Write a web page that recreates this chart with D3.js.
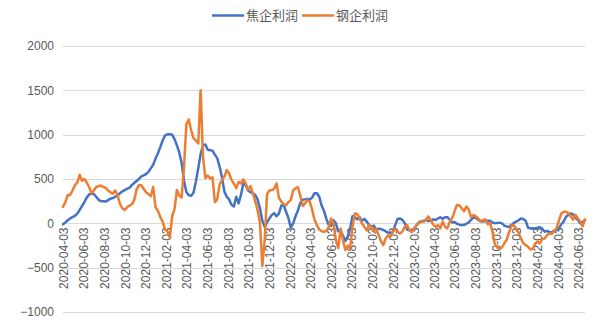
<!DOCTYPE html>
<html>
<head>
<meta charset="utf-8">
<script src="https://cdn.jsdelivr.net/npm/d3@7/dist/d3.min.js"></script>
<style>
  html, body { margin: 0; padding: 0; background: #fff; }
  svg { display: block; }
  text { font-family: "Liberation Sans", Arial, "Noto Sans CJK SC", sans-serif; fill: #595959; }
</style>
</head>
<body>
<svg id="chart" width="609" height="330"></svg>
<script>
// Weekly series, first observation on 2020-04-03, one value per week (元/吨)
const startDate = "2020-04-03";
const seriesNames = ["焦企利润", "钢企利润"];
const seriesColors = ["#4472C4", "#ED7D31"];

const cokeProfit = [
  -10, 10, 35, 55, 70, 85, 110, 150, 195, 240,
  290, 325, 336, 330, 300, 265, 250, 248, 245, 262,
  278, 285, 300, 312, 340, 360, 375, 390, 400, 430,
  455, 478, 500, 530, 540, 555, 580, 620, 660, 730,
  790, 860, 935, 990, 1005, 1005, 1000, 950, 880, 800,
  680, 480, 350, 318, 310, 345, 470, 620, 780, 880,
  890, 830, 825, 820, 775, 735, 640, 520, 360, 300,
  270, 210, 190, 300, 225, 320, 450, 430, 370, 350,
  340, 320, 270, 170, 30, -40, 10, 55, 95, 115,
  80, 110, 200, 210, 130, 60, -50, 0, 80, 145,
  230, 265, 270, 275, 268, 290, 340, 340, 300, 200,
  140, 50, -20, -30, 35, 0, -90, -80, -140, -200,
  -150, -60, 80, 70, 45, 70, 30, 50, 20, -20,
  -35, -25, -70, -60, -65, -75, -90, -105, -110, -100,
  -20, 50, 55, 40, 5, -70, -80, -80, -60, -20,
  10, 25, 30, 38, 25, 30, 45, 38, 55, 68,
  50, 68, 70, 40, 10, 15, -5, -15, -20, -18,
  -5, 10, 40, 68, 60, 40, 25, 20, 30, 28,
  30, 10, 2, 5, 8, 0, -25, -35, -38, -20,
  5, 20, 35, 55, 50, 30, -50, -57, -55, -57,
  -50, -45, -60, -95, -85, -100, -100, -85, -78, -60,
  -10, 20, 75, 95, 112, 100, 60, 40, 0, 15,
  35
];

const steelProfit = [
  186, 240, 320, 318, 370, 430, 460, 548, 480, 500,
  460, 410, 340, 370, 410, 420, 425, 410, 400, 370,
  350, 335, 370, 315, 220, 170, 150, 180, 200, 215,
  260, 380, 430, 430, 390, 350, 330, 305, 410, 180,
  140, 70, 20, -70, -90, -160, 80, 160, 375, 310,
  290, 640, 1120, 1170, 1050, 960, 935, 900, 1500, 750,
  510, 540, 505, 520, 240, 270, 440, 490, 525, 600,
  565, 490, 450, 395, 465, 450, 495, 450, 380, 420,
  340, 250, 150, 10, -480, -190, 330, 370, 375, 390,
  450, 290, 245, 215, 205, 240, 262, 370, 395, 410,
  310, 195, 225, 260, 245, 155, 40, -20, -70, -90,
  -95, -85, -40, 55, 0, -190, -280, -60, -190, -300,
  -250, -285, -40, 110, 105, 55, 0, -40, -80, -20,
  -40, -95, -60, -130, -200, -245, -170, -135, -150, -95,
  -60, -95, -115, -95, -40, -20, -75, -95, -60, -20,
  0, 20, 18, 40, 78, 38, -15, -38, -20, -55,
  20, -38, -57, 19, 57, 133, 208, 205, 170, 135,
  190, 155, 70, 95, 78, 57, 20, 38, 45, -10,
  5, -95, -230, -275, -285, -270, -225, -185, -100, -30,
  -20, -60, -105, -170, -225, -245, -265, -295, -285, -230,
  -205, -225, -175, -170, -135, -115, -120, -80, -60, 30,
  110, 130, 130, 115, 80, 40, 95, 55, 20, -35,
  45
];

const yTicks = [-1000, -500, 0, 500, 1000, 1500, 2000];
const xTickLabels = [
  "2020-04-03", "2020-06-03", "2020-08-03", "2020-10-03", "2020-12-03",
  "2021-02-03", "2021-04-03", "2021-06-03", "2021-08-03", "2021-10-03",
  "2021-12-03", "2022-02-03", "2022-04-03", "2022-06-03", "2022-08-03",
  "2022-10-03", "2022-12-03", "2023-02-03", "2023-04-03", "2023-06-03",
  "2023-08-03", "2023-10-03", "2023-12-03", "2024-02-03", "2024-04-03",
  "2024-06-03"
];

const parse = d3.timeParse("%Y-%m-%d");
const fmt = d3.timeFormat("%Y-%m-%d");
const t0 = parse(startDate);
const dates = cokeProfit.map((_, i) => d3.timeDay.offset(t0, 7 * i));

const svg = d3.select("#chart");
const plot = { left: 63, right: 585, top: 46, bottom: 312 };

const x = d3.scaleTime()
  .domain([dates[0], dates[dates.length - 1]])
  .range([plot.left, plot.right]);
const y = d3.scaleLinear()
  .domain([-1000, 2000])
  .range([plot.bottom, plot.top]);

// horizontal gridlines
svg.append("g")
  .selectAll("line")
  .data(yTicks.filter(v => v !== 0))
  .join("line")
  .attr("x1", plot.left)
  .attr("x2", plot.right)
  .attr("y1", d => Math.round(y(d)) + 0.5)
  .attr("y2", d => Math.round(y(d)) + 0.5)
  .attr("stroke", "#d9d9d9")
  .attr("stroke-width", 1);

// y axis labels
const yAxis = d3.axisLeft(y).tickValues(yTicks).tickFormat(d3.format("d")).tickSize(0).tickPadding(0);
const gy = svg.append("g").attr("transform", `translate(54,0)`).call(yAxis);
gy.select(".domain").remove();
gy.selectAll("text")
  .attr("font-size", 12)
  .attr("fill", "#595959")
  .style("font-family", '"Liberation Sans", Arial, sans-serif');

// x axis on the zero line
const xAxis = d3.axisBottom(x)
  .tickValues(xTickLabels.map(parse))
  .tickFormat(fmt)
  .tickSize(0)
  .tickPadding(0);
const gx = svg.append("g")
  .attr("transform", `translate(0,${Math.round(y(0)) + 0.5})`)
  .call(xAxis);
gx.select(".domain")
  .attr("d", `M${plot.left},0H${plot.right}`)
  .attr("stroke", "#d9d9d9");
gx.selectAll("text")
  .attr("font-size", 12)
  .attr("fill", "#595959")
  .style("font-family", '"Liberation Sans", Arial, sans-serif')
  .attr("text-anchor", "end")
  .attr("dy", null)
  .attr("y", 0)
  .attr("transform", "translate(4,4) rotate(-90)");

// series lines
const line = d3.line()
  .x((d, i) => x(dates[i]))
  .y(d => y(d));

[cokeProfit, steelProfit].forEach((s, k) => {
  svg.append("path")
    .datum(s)
    .attr("d", line)
    .attr("fill", "none")
    .attr("stroke", seriesColors[k])
    .attr("stroke-width", 2.5)
    .attr("stroke-linejoin", "round")
    .attr("stroke-linecap", "round");
});

// legend
const legend = svg.append("g");
const legendItems = [
  { name: seriesNames[0], color: seriesColors[0], x: 212 },
  { name: seriesNames[1], color: seriesColors[1], x: 302 }
];
legendItems.forEach(it => {
  legend.append("line")
    .attr("x1", it.x).attr("x2", it.x + 32)
    .attr("y1", 15.5).attr("y2", 15.5)
    .attr("stroke", it.color)
    .attr("stroke-width", 2.5);
  legend.append("text")
    .attr("x", it.x + 34)
    .attr("y", 15.5)
    .attr("dy", "0.35em")
    .attr("font-size", 13)
    .style("font-family", '"Noto Sans CJK SC", sans-serif')
    .attr("fill", "#595959")
    .text(it.name);
});
</script>
</body>
</html>
